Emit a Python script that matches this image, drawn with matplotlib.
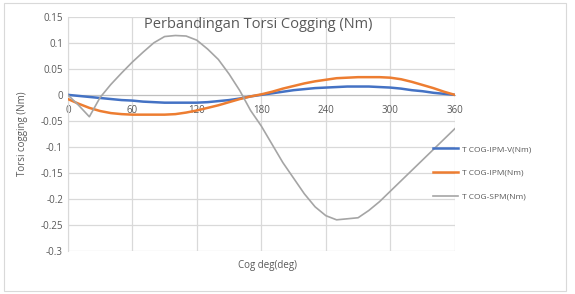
import matplotlib
matplotlib.use('Agg')
import matplotlib.pyplot as plt
from matplotlib.patches import Rectangle

# sudut cogging (deg)
deg = [0, 10, 20, 30, 40, 50, 60, 70, 80, 90, 100, 110, 120, 130, 140, 150, 160, 170, 180,
       190, 200, 210, 220, 230, 240, 250, 260, 270, 280, 290, 300, 310, 320, 330, 340, 350, 360]

t_ipm_v = [0.0, -0.002, -0.004, -0.006, -0.008, -0.010, -0.011, -0.013, -0.014, -0.015, -0.015,
           -0.015, -0.015, -0.014, -0.012, -0.010, -0.007, -0.003, 0.0, 0.003, 0.006, 0.009,
           0.011, 0.013, 0.014, 0.015, 0.016, 0.016, 0.016, 0.015, 0.014, 0.012, 0.009, 0.007,
           0.004, 0.002, 0.0]

t_ipm = [-0.008, -0.017, -0.025, -0.031, -0.035, -0.037, -0.038, -0.038, -0.038, -0.038, -0.037,
         -0.034, -0.030, -0.025, -0.020, -0.014, -0.008, -0.003, 0.001, 0.006, 0.012, 0.017,
         0.022, 0.026, 0.029, 0.032, 0.033, 0.034, 0.034, 0.034, 0.033, 0.030, 0.025, 0.019,
         0.013, 0.006, 0.0]

t_spm = [0.0, -0.020, -0.042, -0.005, 0.020, 0.042, 0.063, 0.082, 0.100, 0.112, 0.114, 0.113,
         0.105, 0.088, 0.068, 0.040, 0.008, -0.030, -0.060, -0.095, -0.130, -0.160, -0.190,
         -0.215, -0.232, -0.240, -0.238, -0.236, -0.222, -0.205, -0.185, -0.165, -0.145,
         -0.125, -0.105, -0.085, -0.065]

labels = ['T COG-IPM-V(Nm)', 'T COG-IPM(Nm)', 'T COG-SPM(Nm)']
colors = ['#4472C4', '#ED7D31', '#A5A5A5']

x_ticks = [0, 60, 120, 180, 240, 300, 360]
y_ticks = [-0.3, -0.25, -0.2, -0.15, -0.1, -0.05, 0, 0.05, 0.1, 0.15]
y_ticklabels = ['-0.3', '-0.25', '-0.2', '-0.15', '-0.1', '-0.05', '0', '0.05', '0.1', '0.15']

plt.rcParams['font.family'] = ['Open Sans', 'DejaVu Sans']

fig = plt.figure(figsize=(5.75, 2.94), dpi=100)
ax = fig.add_axes([0.118, 0.146, 0.673, 0.797])

# bingkai luar chart
fig.patches.append(Rectangle((0.007, 0.01), 0.978, 0.98, transform=fig.transFigure,
                             fill=False, edgecolor='#d9d9d9', linewidth=0.8))

ax.plot(deg, t_ipm_v, color=colors[0], lw=1.8, label=labels[0], zorder=3)
ax.plot(deg, t_ipm, color=colors[1], lw=1.8, label=labels[1], zorder=3)
ax.plot(deg, t_spm, color=colors[2], lw=1.2, label=labels[2], zorder=3)

ax.set_xlim(0, 360)
ax.set_ylim(-0.3, 0.15)
ax.set_xticks(x_ticks)
ax.set_yticks(y_ticks)
ax.set_yticklabels(y_ticklabels)
ax.grid(True, color='#d9d9d9', lw=0.9)
ax.set_axisbelow(True)

for s in ['top', 'right']:
    ax.spines[s].set_visible(False)
ax.spines['left'].set_color('#d9d9d9')
ax.spines['bottom'].set_position(('data', 0))
ax.spines['bottom'].set_color('#bfbfbf')
ax.tick_params(length=0, labelsize=7, colors='#595959')
ax.tick_params(axis='x', pad=7)

ax.set_ylabel('Torsi cogging (Nm)', fontsize=7, color='#595959', labelpad=9)
fig.text(0.466, 0.098, 'Cog deg(deg)', fontsize=7, color='#595959', ha='center', va='center')
fig.text(0.449, 0.918, 'Perbandingan Torsi Cogging (Nm)', fontsize=10.5, color='#595959',
         ha='center', va='center')

ax.legend(loc='upper left', bbox_to_anchor=(0.746, 0.52), bbox_transform=fig.transFigure,
          frameon=False, fontsize=6, borderpad=0, handlelength=3.0, handletextpad=0.5,
          labelspacing=1.9, labelcolor='#595959')

fig.savefig('out.png', dpi=100)
